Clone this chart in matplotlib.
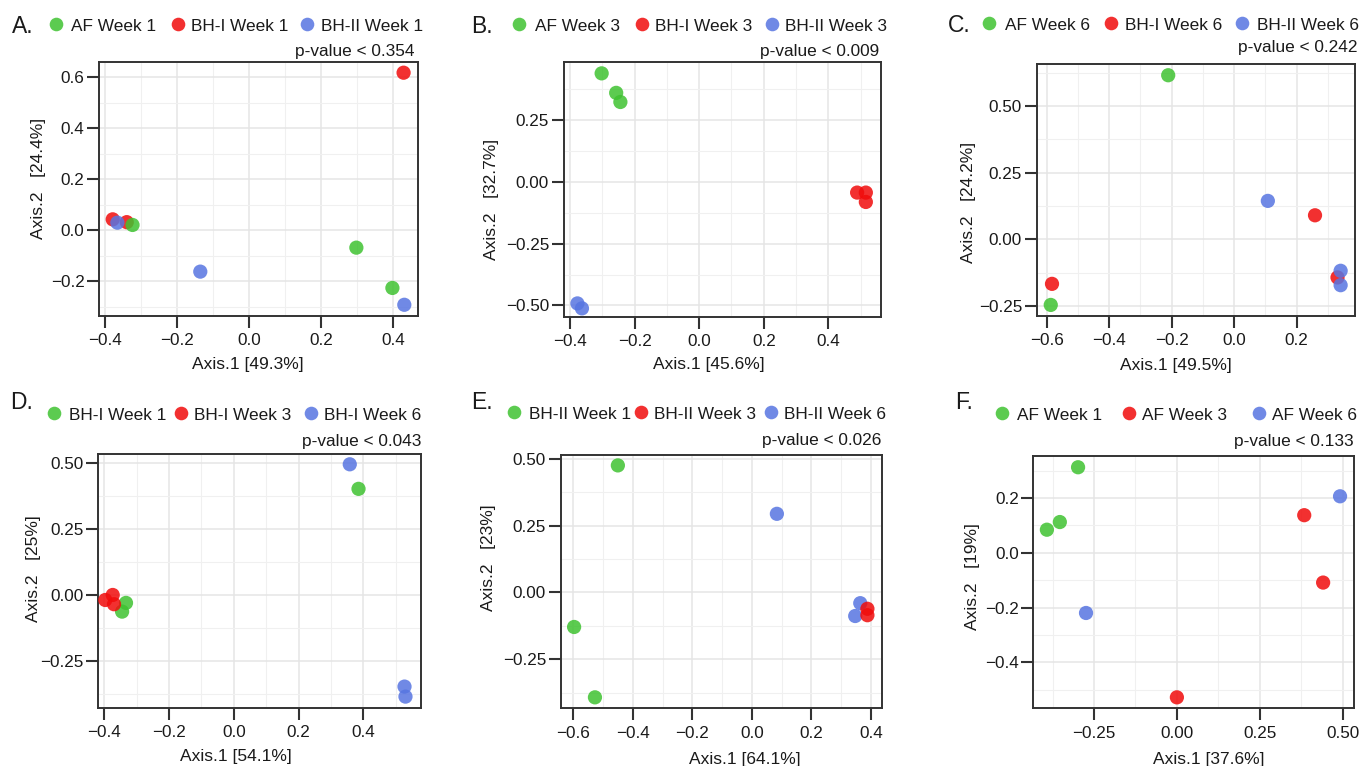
import matplotlib
matplotlib.use("Agg")
import matplotlib.pyplot as plt
from matplotlib.ticker import FixedLocator, FixedFormatter

plt.rcParams['font.family'] = ['Liberation Sans', 'DejaVu Sans']

# ---------------- data ----------------
# Panel A (Week 1)
a_labels = ["AF Week 1", "BH-I Week 1", "BH-II Week 1"]
a_g_x = [-0.323, 0.298, 0.398]
a_g_y = [0.020, -0.069, -0.227]
a_r_x = [0.429, -0.378, -0.339]
a_r_y = [0.617, 0.042, 0.031]
a_b_x = [-0.365, -0.135, 0.431]
a_b_y = [0.029, -0.163, -0.293]
a_xticks = [-0.4, -0.2, 0.0, 0.2, 0.4]
a_xticklabels = ["\u22120.4", "\u22120.2", "0.0", "0.2", "0.4"]
a_yticks = [-0.2, 0.0, 0.2, 0.4, 0.6]
a_yticklabels = ["\u22120.2", "0.0", "0.2", "0.4", "0.6"]
a_xlabel = "Axis.1 [49.3%]"
a_ylabel = "Axis.2   [24.4%]"
a_p = "p-value < 0.354"

# Panel B (Week 3)
b_labels = ["AF Week 3", "BH-I Week 3", "BH-II Week 3"]
b_g_x = [-0.302, -0.257, -0.244]
b_g_y = [0.440, 0.361, 0.324]
b_r_x = [0.489, 0.516, 0.516]
b_r_y = [-0.043, -0.043, -0.081]
b_b_x = [-0.377, -0.363]
b_b_y = [-0.492, -0.512]
b_xticks = [-0.4, -0.2, 0.0, 0.2, 0.4]
b_xticklabels = ["\u22120.4", "\u22120.2", "0.0", "0.2", "0.4"]
b_yticks = [-0.50, -0.25, 0.0, 0.25]
b_yticklabels = ["\u22120.50", "\u22120.25", "0.00", "0.25"]
b_xlabel = "Axis.1 [45.6%]"
b_ylabel = "Axis.2   [32.7%]"
b_p = "p-value < 0.009"

# Panel C (Week 6)
c_labels = ["AF Week 6", "BH-I Week 6", "BH-II Week 6"]
c_g_x = [-0.211, -0.587]
c_g_y = [0.615, -0.246]
c_r_x = [-0.583, 0.259, 0.331]
c_r_y = [-0.167, 0.090, -0.143]
c_b_x = [0.108, 0.341, 0.341]
c_b_y = [0.144, -0.118, -0.172]
c_xticks = [-0.6, -0.4, -0.2, 0.0, 0.2]
c_xticklabels = ["\u22120.6", "\u22120.4", "\u22120.2", "0.0", "0.2"]
c_yticks = [-0.25, 0.0, 0.25, 0.50]
c_yticklabels = ["\u22120.25", "0.00", "0.25", "0.50"]
c_xlabel = "Axis.1 [49.5%]"
c_ylabel = "Axis.2   [24.2%]"
c_p = "p-value < 0.242"

# Panel D (BH-I over time)
d_labels = ["BH-I Week 1", "BH-I Week 3", "BH-I Week 6"]
d_g_x = [0.385, -0.333, -0.345]
d_g_y = [0.402, -0.030, -0.063]
d_r_x = [-0.374, -0.397, -0.370]
d_r_y = [0.000, -0.019, -0.035]
d_b_x = [0.358, 0.527, 0.530]
d_b_y = [0.495, -0.347, -0.385]
d_xticks = [-0.4, -0.2, 0.0, 0.2, 0.4]
d_xticklabels = ["\u22120.4", "\u22120.2", "0.0", "0.2", "0.4"]
d_yticks = [-0.25, 0.0, 0.25, 0.50]
d_yticklabels = ["\u22120.25", "0.00", "0.25", "0.50"]
d_xlabel = "Axis.1 [54.1%]"
d_ylabel = "Axis.2   [25%]"
d_p = "p-value < 0.043"

# Panel E (BH-II over time)
e_labels = ["BH-II Week 1", "BH-II Week 3", "BH-II Week 6"]
e_g_x = [-0.450, -0.597, -0.527]
e_g_y = [0.475, -0.129, -0.392]
e_r_x = [0.388, 0.388]
e_r_y = [-0.061, -0.085]
e_b_x = [0.084, 0.364, 0.347]
e_b_y = [0.294, -0.040, -0.088]
e_xticks = [-0.6, -0.4, -0.2, 0.0, 0.2, 0.4]
e_xticklabels = ["\u22120.6", "\u22120.4", "\u22120.2", "0.0", "0.2", "0.4"]
e_yticks = [-0.25, 0.0, 0.25, 0.50]
e_yticklabels = ["\u22120.25", "0.00", "0.25", "0.50"]
e_xlabel = "Axis.1 [64.1%]"
e_ylabel = "Axis.2   [23%]"
e_p = "p-value < 0.026"

# Panel F (AF over time)
f_labels = ["AF Week 1", "AF Week 3", "AF Week 6"]
f_g_x = [-0.298, -0.353, -0.392]
f_g_y = [0.312, 0.112, 0.084]
f_r_x = [0.384, 0.441, 0.000]
f_r_y = [0.137, -0.109, -0.528]
f_b_x = [-0.274, 0.492]
f_b_y = [-0.220, 0.206]
f_xticks = [-0.25, 0.0, 0.25, 0.50]
f_xticklabels = ["\u22120.25", "0.00", "0.25", "0.50"]
f_yticks = [-0.4, -0.2, 0.0, 0.2]
f_yticklabels = ["\u22120.4", "\u22120.2", "0.0", "0.2"]
f_xlabel = "Axis.1 [37.6%]"
f_ylabel = "Axis.2   [19%]"
f_p = "p-value < 0.133"

# ---------------- style / layout ----------------
GREEN = "#3FC231"
RED = "#F00C0C"
BLUE = "#5775E1"
ALPHA = 0.85
TXT = "#1a1a1a"

W, H = 1361, 766
fig = plt.figure(figsize=(W / 100, H / 100), dpi=100)

panels = [
    dict(letter="A.", labels=a_labels, g=(a_g_x, a_g_y), r=(a_r_x, a_r_y), b=(a_b_x, a_b_y),
         xt=a_xticks, xtl=a_xticklabels, yt=a_yticks, ytl=a_yticklabels,
         xl=a_xlabel, yl=a_ylabel, p=a_p, order="rbg",
         box=(99, 62, 418, 316), xlim=(-0.416, 0.469), ylim=(-0.337, 0.659),
         let=(12, 33.3), mk=(55.7, 177.7, 307.3), tx=(70.7, 190.7, 320.7), mky=24, tby=30.7,
         pxy=(415, 56), xlc=(248, 364), ylc=(38.3, 178.7)),
    dict(letter="B.", labels=b_labels, g=(b_g_x, b_g_y), r=(b_r_x, b_r_y), b=(b_b_x, b_b_y),
         xt=b_xticks, xtl=b_xticklabels, yt=b_yticks, ytl=b_yticklabels,
         xl=b_xlabel, yl=b_ylabel, p=b_p, order="gbr",
         box=(563.7, 62, 880.7, 317), xlim=(-0.4195, 0.562), ylim=(-0.547, 0.486),
         let=(471.5, 33.3), mk=(519.3, 641.7, 771.7), tx=(535, 654.7, 785), mky=24, tby=30.7,
         pxy=(879.3, 56), xlc=(708.7, 365), ylc=(491.7, 199)),
    dict(letter="C.", labels=c_labels, g=(c_g_x, c_g_y), r=(c_r_x, c_r_y), b=(c_b_x, c_b_y),
         xt=c_xticks, xtl=c_xticklabels, yt=c_yticks, ytl=c_yticklabels,
         xl=c_xlabel, yl=c_ylabel, p=c_p, order="grb",
         box=(1036.7, 64.3, 1355, 316), xlim=(-0.632, 0.387), ylim=(-0.2875, 0.656),
         let=(947.5, 31.7), mk=(989.3, 1111.3, 1241.7), tx=(1005, 1125, 1257.3), mky=23.3, tby=30,
         pxy=(1357.3, 51.7), xlc=(1176.3, 365), ylc=(968, 202.5)),
    dict(letter="D.", labels=d_labels, g=(d_g_x, d_g_y), r=(d_r_x, d_r_y), b=(d_b_x, d_b_y),
         xt=d_xticks, xtl=d_xticklabels, yt=d_yticks, ytl=d_yticklabels,
         xl=d_xlabel, yl=d_ylabel, p=d_p, order="grb",
         box=(98.3, 454, 420.7, 707.7), xlim=(-0.4185, 0.577), ylim=(-0.427, 0.534),
         let=(10.5, 409.3), mk=(54.3, 181, 311), tx=(69.3, 194.3, 324.3), mky=413.3, tby=420,
         pxy=(421.7, 445.7), xlc=(236.2, 756), ylc=(33.3, 568.7)),
    dict(letter="E.", labels=e_labels, g=(e_g_x, e_g_y), r=(e_r_x, e_r_y), b=(e_b_x, e_b_y),
         xt=e_xticks, xtl=e_xticklabels, yt=e_yticks, ytl=e_yticklabels,
         xl=e_xlabel, yl=e_ylabel, p=e_p, order="gbr",
         box=(560.7, 454.7, 882, 708.3), xlim=(-0.642, 0.437), ylim=(-0.433, 0.515),
         let=(471.5, 409.3), mk=(514.3, 641, 771), tx=(529, 654.3, 784.3), mky=412.3, tby=419.3,
         pxy=(881.7, 444.7), xlc=(745, 759.3), ylc=(488.3, 557.8)),
    dict(letter="F.", labels=f_labels, g=(f_g_x, f_g_y), r=(f_r_x, f_r_y), b=(f_b_x, f_b_y),
         xt=f_xticks, xtl=f_xticklabels, yt=f_yticks, ytl=f_yticklabels,
         xl=f_xlabel, yl=f_ylabel, p=f_p, order="grb",
         box=(1033.3, 456.3, 1354.3, 708.3), xlim=(-0.433, 0.535), ylim=(-0.568, 0.352),
         let=(955, 409.3), mk=(1001.7, 1128.7, 1258.7), tx=(1016.7, 1141.7, 1272), mky=413.3, tby=420,
         pxy=(1354, 445.7), xlc=(1209, 759.3), ylc=(973, 576.7)),
]

# overlay axes in pixel coordinates for legends / panel letters / p-values
ov = fig.add_axes([0, 0, 1, 1], zorder=5)
ov.set_xlim(0, W)
ov.set_ylim(H, 0)
ov.axis("off")

colors = {"g": GREEN, "r": RED, "b": BLUE}

for P in panels:
    l, t, r, b = P["box"]
    ax = fig.add_axes([l / W, 1 - b / H, (r - l) / W, (b - t) / H])
    ax.set_facecolor("white")
    for key in P["order"]:
        xs, ys = P[key]
        ax.scatter(xs, ys, s=105, color=colors[key], alpha=ALPHA, edgecolors="none", zorder=3)
    ax.set_xlim(*P["xlim"])
    ax.set_ylim(*P["ylim"])
    xt, yt = P["xt"], P["yt"]
    ax.xaxis.set_major_locator(FixedLocator(xt))
    ax.xaxis.set_major_formatter(FixedFormatter(P["xtl"]))
    ax.yaxis.set_major_locator(FixedLocator(yt))
    ax.yaxis.set_major_formatter(FixedFormatter(P["ytl"]))
    sx = xt[1] - xt[0]
    sy = yt[1] - yt[0]
    ax.xaxis.set_minor_locator(FixedLocator([v + sx / 2 for v in [xt[0] - sx] + list(xt)]))
    ax.yaxis.set_minor_locator(FixedLocator([v + sy / 2 for v in [yt[0] - sy] + list(yt)]))
    ax.grid(True, which="major", color="#e5e5e5", linewidth=1.1, zorder=0)
    ax.grid(True, which="minor", color="#f0f0f0", linewidth=0.8, zorder=0)
    ax.set_axisbelow(True)
    for sp in ax.spines.values():
        sp.set_color("#333333")
        sp.set_linewidth(1.4)
    ax.tick_params(which="major", direction="out", length=8.5, width=1.5, color="#333333",
                   labelsize=12.3, labelcolor=TXT)
    ax.tick_params(axis="x", which="major", pad=4)
    ax.tick_params(axis="y", which="major", pad=2)
    ax.tick_params(which="minor", length=0)
    ax.set_xlabel(P["xl"], fontsize=12.5, color=TXT, va="center", ha="center")
    ax.set_ylabel(P["yl"], fontsize=12.5, color=TXT, va="center", ha="center")
    ax.xaxis.set_label_coords((P["xlc"][0] - l) / (r - l), (b - P["xlc"][1]) / (b - t))
    ax.yaxis.set_label_coords((P["ylc"][0] - l) / (r - l), (b - P["ylc"][1]) / (b - t))

    # panel letter
    ov.text(P["let"][0], P["let"][1], P["letter"], fontsize=16.5, color=TXT,
            ha="left", va="baseline")
    # legend
    for mx, tx, lab, key in zip(P["mk"], P["tx"], P["labels"], "grb"):
        ov.plot([mx], [P["mky"]], marker="o", markersize=9.8, color=colors[key],
                alpha=ALPHA, markeredgewidth=0, linestyle="none")
        ov.text(tx, P["tby"], lab, fontsize=12.4, color=TXT, ha="left", va="baseline")
    # p-value
    ov.text(P["pxy"][0], P["pxy"][1], P["p"], fontsize=12.4, color=TXT,
            ha="right", va="baseline")

fig.savefig("out.png", dpi=100, facecolor="white")
